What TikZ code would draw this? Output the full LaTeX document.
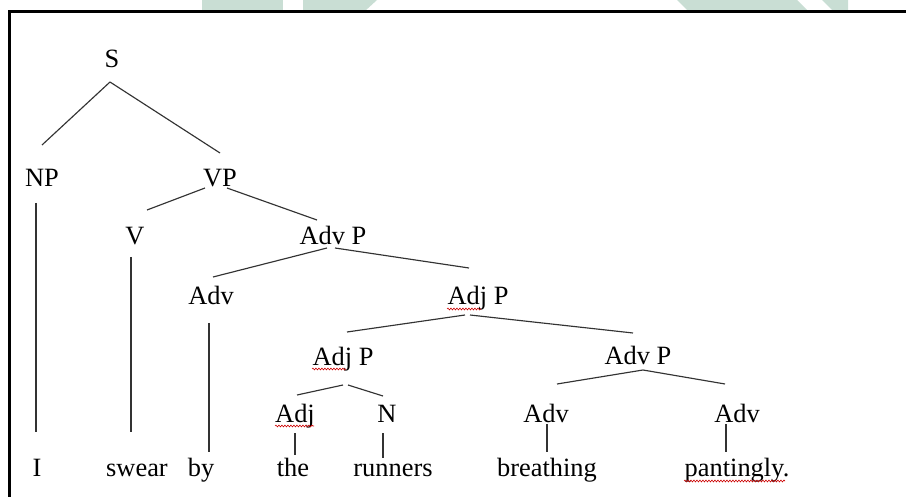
\documentclass[tikz,border=0pt]{standalone}
\usepackage{fontspec}
\setmainfont{Liberation Serif}
\usetikzlibrary{decorations.pathmorphing}
\definecolor{wm}{HTML}{C9DED4}
\begin{document}
\begin{tikzpicture}[x=1bp,y=-1bp,
  lbl/.style={anchor=base,inner sep=0pt,font=\fontsize{26.5}{30}\selectfont},
  edge/.style={line width=1.15bp,black!80},
  squig/.style={red!80!black,line width=0.6bp,decorate,decoration={snake,amplitude=0.9bp,segment length=3bp}}]
\useasboundingbox (0,0) rectangle (906,497);
% watermark fragments
\fill[wm] (202,0) rectangle (283,11);
\fill[wm] (303,0) -- (377,0) -- (365,11) -- (303,11) -- cycle;
\fill[wm] (677,0) -- (797,0) -- (808,11) -- (688,11) -- cycle;
\fill[wm] (822,0) -- (848,0) -- (848,11) -- (833,11) -- cycle;
% frame
\draw[line width=2.4bp] (9.5,497) -- (9.5,11.5) -- (906,11.5);
% nodes
\node[lbl] (S) at (112,68) {S};
\node[lbl] (NP) at (42,187) {NP};
\node[lbl] (VP) at (220,187) {VP};
\node[lbl] (V) at (135,245) {V};
\node[lbl] (AdvP1) at (333,245) {Adv P};
\node[lbl] (Adv1) at (211,305) {Adv};
\node[lbl] (AdjP1) at (478,305) {Adj P};
\node[lbl] (AdjP2) at (343,365) {Adj P};
\node[lbl] (AdvP2) at (638,364) {Adv P};
\node[lbl] (Adj) at (295,422) {Adj};
\node[lbl] (N) at (387,422) {N};
\node[lbl] (Adv3) at (546,422) {Adv};
\node[lbl] (Adv4) at (737,422) {Adv};
\node[lbl] (wI) at (37,476) {I};
\node[lbl] (wswear) at (137,476) {swear};
\node[lbl] (wby) at (201,476) {by};
\node[lbl] (wthe) at (293,476) {the};
\node[lbl] (wrunners) at (393,476) {runners};
\node[lbl] (wbreathing) at (547,476) {breathing};
\node[lbl] (wpantingly) at (737,476) {pantingly.};
% connectors
\draw[edge] ([shift={(-2,14)}]S.base) -- ([shift={(0,-42)}]NP.base);
\draw[edge] ([shift={(-2,14)}]S.base) -- ([shift={(0,-34)}]VP.base);
\draw[edge] ([shift={(-6,16)}]NP.base) -- ([shift={(-1,-44)}]wI.base);
\draw[edge] ([shift={(-15,1)}]VP.base) -- ([shift={(12,-35)}]V.base);
\draw[edge] ([shift={(7,1)}]VP.base) -- ([shift={(-16,-25)}]AdvP1.base);
\draw[edge] ([shift={(-4,12)}]V.base) -- ([shift={(-6,-44)}]wswear.base);
\draw[edge] ([shift={(-6,3)}]AdvP1.base) -- ([shift={(2,-28)}]Adv1.base);
\draw[edge] ([shift={(2,3)}]AdvP1.base) -- ([shift={(-9,-37)}]AdjP1.base);
\draw[edge] ([shift={(-2,18)}]Adv1.base) -- ([shift={(8,-24)}]wby.base);
\draw[edge] ([shift={(-13,10)}]AdjP1.base) -- ([shift={(4,-33)}]AdjP2.base);
\draw[edge] ([shift={(-8,10)}]AdjP1.base) -- ([shift={(-5,-31)}]AdvP2.base);
\draw[edge] ([shift={(0,20)}]AdjP2.base) -- ([shift={(2,-27)}]Adj.base);
\draw[edge] ([shift={(5,20)}]AdjP2.base) -- ([shift={(-4,-26)}]N.base);
\draw[edge] ([shift={(5,6)}]AdvP2.base) -- ([shift={(11,-38)}]Adv3.base);
\draw[edge] ([shift={(5,6)}]AdvP2.base) -- ([shift={(-12,-38)}]Adv4.base);
\draw[edge] ([shift={(0,11)}]Adj.base) -- ([shift={(2,-21)}]wthe.base);
\draw[edge] ([shift={(-4,11)}]N.base) -- ([shift={(-10,-18)}]wrunners.base);
\draw[edge] ([shift={(1,2)}]Adv3.base) -- ([shift={(0,-24)}]wbreathing.base);
\draw[edge] ([shift={(-11,2)}]Adv4.base) -- ([shift={(-11,-24)}]wpantingly.base);
% spell-check squiggles
\draw[squig] ([shift={(-31,4)}]AdjP1.base) -- ([shift={(3,4)}]AdjP1.base);
\draw[squig] ([shift={(-31,4)}]AdjP2.base) -- ([shift={(3,4)}]AdjP2.base);
\draw[squig] ([shift={(-20,4)}]Adj.base) -- ([shift={(19,4)}]Adj.base);
\draw[squig] ([shift={(-53,5)}]wpantingly.base) -- ([shift={(48,5)}]wpantingly.base);
\end{tikzpicture}
\end{document}
